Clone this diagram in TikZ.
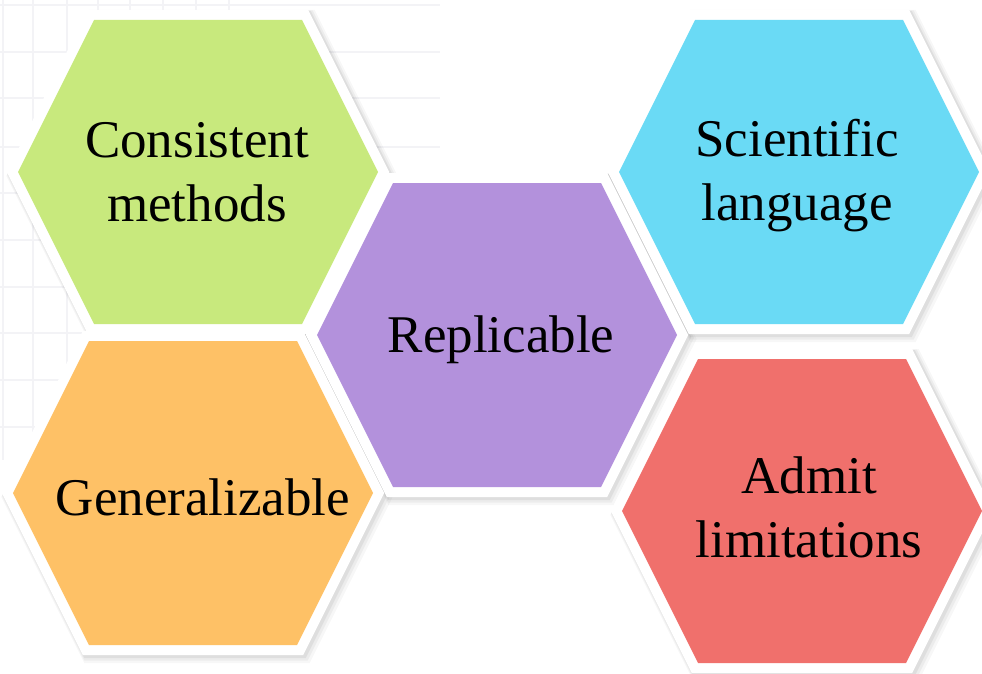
\documentclass[tikz,border=0pt]{standalone}
\usepackage{fontspec}
\setmainfont{Liberation Serif}
\definecolor{hexgreen}{RGB}{200,233,125}
\definecolor{hexpurple}{RGB}{179,145,220}
\definecolor{hexcyan}{RGB}{106,218,245}
\definecolor{hexred}{RGB}{240,112,108}
\definecolor{hexorange}{RGB}{254,193,102}
\definecolor{gridgray}{RGB}{243,243,246}
\tikzset{
  hexa/.pic={\path[pic actions] (-180,0) -- (-104,-152) -- (104,-152) -- (180,0) -- (104,152) -- (-104,152) -- cycle;},
  shadowA/.style={draw=black, draw opacity=0.03, line width=28pt, line join=miter},
  shadowB/.style={draw=black, draw opacity=0.045, line width=25pt, line join=miter},
  shadowC/.style={draw=black, draw opacity=0.06, line width=22pt, line join=miter},
  whiteborder/.style={draw=white, fill=white, line width=20pt, line join=miter},
  label/.style={font=\fontsize{53}{64}\selectfont, align=center, inner sep=0pt, text=black},
  gridline/.style={draw=gridgray, line width=1.2pt}
}
\begin{document}
\begin{tikzpicture}[x=1pt,y=-1pt]
\useasboundingbox (0,0) rectangle (982,674);
\begin{scope}
\clip (0,0) rectangle (982,674);
% faint background grid
\foreach \gy in {5,52,98,147,193,240,287,333,380,427}
  \draw[gridline] (0,\gy) -- (440,\gy);
\foreach \gx in {3,33,67,98,130,163,196,229}
  \draw[gridline] (\gx,0) -- (\gx,460);
% shadows
\foreach \cx/\cy in {198/172,497/335,799/172,802/511,193/493}{
  \pic[shadowA] at ({\cx+4},{\cy+4}) {hexa};
  \pic[shadowB] at ({\cx+3},{\cy+3}) {hexa};
  \pic[shadowC] at ({\cx+2},{\cy+2}) {hexa};
}
% white borders
\foreach \cx/\cy in {198/172,497/335,799/172,802/511,193/493}{
  \pic[whiteborder] at (\cx,\cy) {hexa};
}
% coloured hexagons
\pic[fill=hexgreen]  at (198,172) {hexa};
\pic[fill=hexpurple] at (497,335) {hexa};
\pic[fill=hexcyan]   at (799,172) {hexa};
\pic[fill=hexred]    at (802,511) {hexa};
\pic[fill=hexorange] at (193,493) {hexa};
\end{scope}
% labels
\node[label] (consistent) at (197,172) {Consistent\\methods};
\node[label, anchor=base] (replicable) at (501,352) {Replicable};
\node[label] (scientific) at (797,176) {Scientific\\language};
\node[label] (admit) at (809,507) {Admit\\limitations};
\node[label, anchor=base] (general) at (203,515) {Generalizable};
\end{tikzpicture}
\end{document}
